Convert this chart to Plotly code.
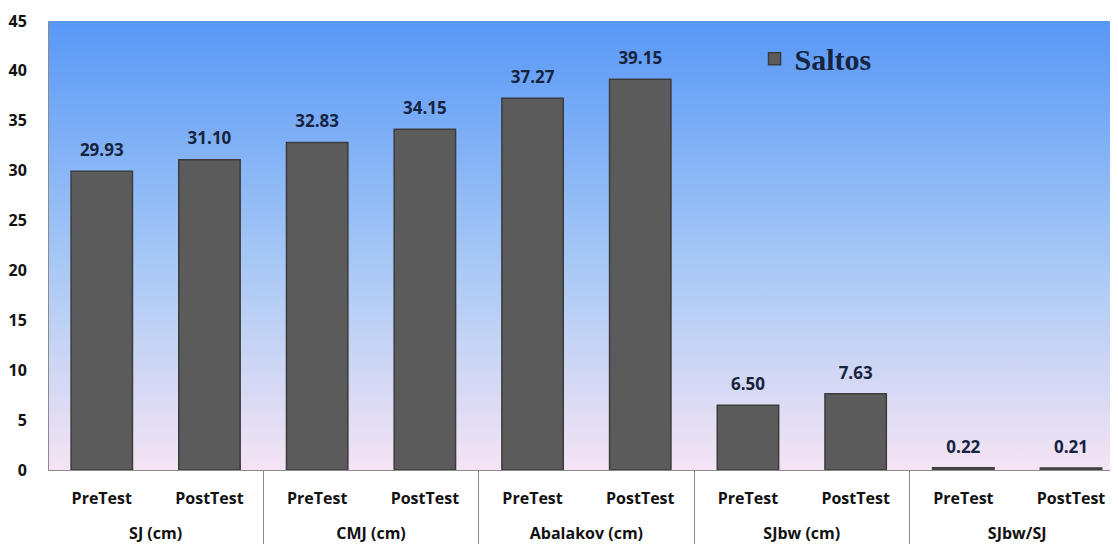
import plotly.graph_objects as go

# data
groups = ["SJ (cm)", "SJ (cm)", "CMJ (cm)", "CMJ (cm)", "Abalakov (cm)", "Abalakov (cm)",
          "SJbw (cm)", "SJbw (cm)", "SJbw/SJ", "SJbw/SJ"]
tests = ["PreTest", "PostTest"] * 5
values = [29.93, 31.10, 32.83, 34.15, 37.27, 39.15, 6.50, 7.63, 0.22, 0.21]
y_ticks = list(range(0, 50, 5))

# a taller blank second line on the first level pushes the group row down
sub_labels = [t + "<br><span style='font-size:30px'> </span>" for t in tests]

fig = go.Figure()

# background gradient, drawn on a hidden base axis pair
fig.add_trace(go.Scatter(
    x=[0, 1, 1, 0, 0], y=[0, 0, 45, 45, 0],
    mode="none", fill="toself",
    fillgradient=dict(type="vertical", start=0, stop=45,
                      colorscale=[[0, "#f5e4f4"], [0.45, "#a9c9f5"], [1, "#5898f6"]]),
    hoverinfo="skip", showlegend=False,
    xaxis="x", yaxis="y",
))

fig.add_trace(go.Bar(
    x=[groups, sub_labels], y=values,
    name="<b>Saltos</b>",
    marker=dict(color="#5b5b5b", line=dict(color="#3c3c3c", width=1.5)),
    xaxis="x2", yaxis="y2",
))

# value labels, lifted off the bar tops by an invisible marker
fig.add_trace(go.Scatter(
    x=[groups, sub_labels], y=values,
    mode="markers+text",
    marker=dict(size=16, color="rgba(0,0,0,0)"),
    text=[f"<b>{v:.2f}</b>" for v in values],
    textposition="top center",
    textfont=dict(family="Open Sans", size=17, color="#16243f"),
    cliponaxis=False, showlegend=False, hoverinfo="skip",
    xaxis="x2", yaxis="y2",
))

tick_font = dict(family="Open Sans", size=16, color="#111111", weight="bold")

# the page body adds an 8px offset, so the figure is sized to fit the window
fig.update_layout(
    width=1110, height=536,
    margin=dict(l=41, r=0, t=13, b=74),
    paper_bgcolor="white",
    plot_bgcolor="white",
    bargap=0.43,
    xaxis=dict(range=[0, 1], visible=False, fixedrange=True),
    yaxis=dict(range=[0, 45], visible=False),
    xaxis2=dict(
        type="multicategory", overlaying="x", anchor="y2",
        # the last group runs slightly past the right edge in the original
        range=[-0.49, 9.436],
        showline=True, linecolor="#8c8c8c", linewidth=1,
        showdividers=True, dividercolor="#8c8c8c", dividerwidth=1,
        tickfont=tick_font, ticks="", automargin=False,
        ticklabelstandoff=14,
    ),
    yaxis2=dict(
        overlaying="y", side="left", range=[0, 45],
        tickvals=y_ticks, showgrid=False, zeroline=False,
        showline=True, linecolor="#8c8c8c", linewidth=1,
        tickfont=tick_font, automargin=False,
        ticklabelstandoff=18,
    ),
    legend=dict(
        x=0.66, y=0.916, xanchor="left", yanchor="middle",
        bgcolor="rgba(0,0,0,0)",
        font=dict(family="Liberation Serif", size=30, color="#16243f"),
    ),
    showlegend=True,
)

fig.write_html("out.html")
